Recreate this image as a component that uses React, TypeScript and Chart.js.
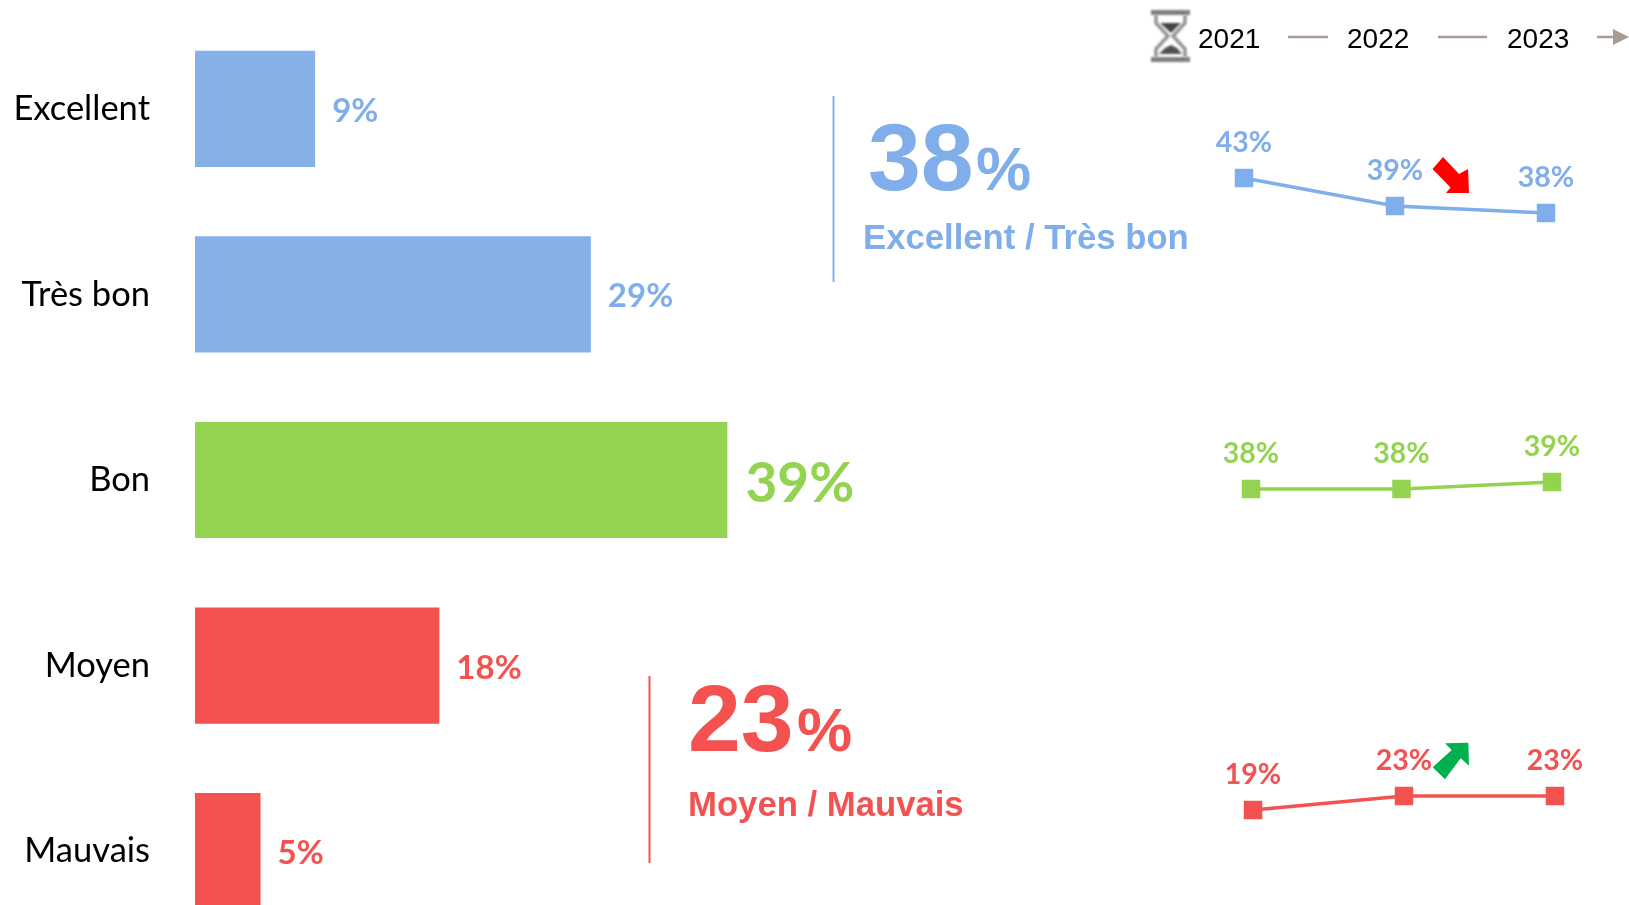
import React, { useEffect, useRef } from "react";
import { Chart, registerables } from "chart.js";

Chart.register(...registerables);

const categories = ["Excellent", "Très bon", "Bon", "Moyen", "Mauvais"];
const barValues = [8.8, 29, 39, 17.9, 4.8];
const barLabels = ["9%", "29%", "39%", "18%", "5%"];

const years = ["2021", "2022", "2023"];
const goodTrend = [43, 39, 38];
const neutralTrend = [38, 38, 39];
const badTrend = [19, 23, 23];

const BLUE = "#85B0E8";
const BLUE_TEXT = "#7FAEEA";
const GREEN = "#93D350";
const RED = "#F45151";
const GREY = "#A89B93";

const SANS = '"Liberation Sans", Arial, sans-serif';
const LABEL = 'Lato, "Noto Sans", sans-serif';

function poly(ctx: CanvasRenderingContext2D, pts: number[][], fill: string) {
  ctx.beginPath();
  pts.forEach((p, i) => (i ? ctx.lineTo(p[0], p[1]) : ctx.moveTo(p[0], p[1])));
  ctx.closePath();
  ctx.fillStyle = fill;
  ctx.fill();
}

function text(ctx: CanvasRenderingContext2D, s: string, x: number, y: number, font: string, color: string, align: CanvasTextAlign = "left") {
  ctx.font = font;
  ctx.fillStyle = color;
  ctx.textAlign = align;
  ctx.textBaseline = "alphabetic";
  ctx.fillText(s, x, y);
}

function drawHourglass(ctx: CanvasRenderingContext2D) {
  ctx.save();
  ctx.filter = "blur(1px)";
  ctx.fillStyle = "#7e7e7e";
  ctx.fillRect(1151, 10, 39, 5);
  ctx.fillRect(1151, 57, 39, 5);
  ctx.strokeStyle = "#949494";
  ctx.lineWidth = 3.5;
  ctx.beginPath();
  ctx.moveTo(1156, 15);
  ctx.lineTo(1156, 23);
  ctx.lineTo(1168, 36);
  ctx.lineTo(1156, 49);
  ctx.lineTo(1156, 57);
  ctx.moveTo(1185, 15);
  ctx.lineTo(1185, 23);
  ctx.lineTo(1173, 36);
  ctx.lineTo(1185, 49);
  ctx.lineTo(1185, 57);
  ctx.stroke();
  poly(ctx, [[1160, 23], [1181, 23], [1171, 33]], "#444444");
  poly(ctx, [[1159, 54], [1182, 54], [1177, 48], [1171, 45], [1165, 48]], "#505050");
  ctx.restore();
}

const decor = {
  id: "decor",
  afterDraw(chart: any) {
    const ctx: CanvasRenderingContext2D = chart.ctx;
    ctx.save();
    // header
    drawHourglass(ctx);
    const hf = `28px ${SANS}`;
    text(ctx, years[0], 1198, 48, hf, "#000");
    text(ctx, years[1], 1347, 48, hf, "#000");
    text(ctx, years[2], 1507, 48, hf, "#000");
    ctx.strokeStyle = GREY;
    ctx.lineWidth = 2.5;
    ctx.beginPath();
    ctx.moveTo(1288, 37);
    ctx.lineTo(1328, 37);
    ctx.moveTo(1438, 37);
    ctx.lineTo(1487, 37);
    ctx.moveTo(1597, 37);
    ctx.lineTo(1615, 37);
    ctx.stroke();
    poly(ctx, [[1613, 29], [1629, 37], [1613, 45]], GREY);
    // KPI blocks
    ctx.lineWidth = 2;
    ctx.strokeStyle = BLUE;
    ctx.beginPath();
    ctx.moveTo(833.5, 96);
    ctx.lineTo(833.5, 282);
    ctx.stroke();
    text(ctx, "38", 868, 190, `bold 95px ${SANS}`, BLUE_TEXT);
    text(ctx, "%", 976, 190, `bold 62px ${SANS}`, BLUE_TEXT);
    text(ctx, "Excellent / Très bon", 863, 249, `bold 34.7px ${SANS}`, BLUE_TEXT);
    ctx.strokeStyle = RED;
    ctx.beginPath();
    ctx.moveTo(649.5, 676);
    ctx.lineTo(649.5, 863);
    ctx.stroke();
    text(ctx, "23", 688, 751, `bold 95px ${SANS}`, RED);
    text(ctx, "%", 797, 751, `bold 62px ${SANS}`, RED);
    text(ctx, "Moyen / Mauvais", 688, 816, `bold 34.7px ${SANS}`, RED);
    // trend arrows
    poly(ctx, [[1443, 157], [1459, 174], [1468, 169], [1469, 193], [1446, 193], [1450.5, 187.5], [1432.5, 169]], "#FF0000");
    poly(ctx, [[1445, 743.3], [1468.3, 742.7], [1469, 765.7], [1460.7, 758.3], [1445, 779.3], [1432.7, 767.3], [1451.7, 750]], "#00B050");
    ctx.restore();
  },
};

const barText = {
  id: "barText",
  afterDatasetsDraw(chart: any) {
    const ctx: CanvasRenderingContext2D = chart.ctx;
    const meta = chart.getDatasetMeta(0);
    ctx.save();
    meta.data.forEach((el: any, i: number) => {
      const big = i === 2;
      const color = (chart.data.datasets[0].backgroundColor as string[])[i];
      text(ctx, barLabels[i], el.x + (big ? 18 : 17), el.y + (big ? 22 : 13), `bold ${big ? 55 : 33}px ${LABEL}`, color === BLUE ? BLUE_TEXT : color);
    });
    ctx.restore();
  },
};

const pointText = {
  id: "pointText",
  afterDatasetsDraw(chart: any) {
    const ctx: CanvasRenderingContext2D = chart.ctx;
    const ds = chart.data.datasets[0];
    ctx.save();
    chart.getDatasetMeta(0).data.forEach((el: any, i: number) => {
      text(ctx, `${ds.data[i]}%`, el.x, el.y - 26, `bold 28.5px ${LABEL}`, ds.borderColor, "center");
    });
    ctx.restore();
  },
};

function BarPanel() {
  const ref = useRef<HTMLCanvasElement>(null);
  useEffect(() => {
    const chart = new Chart(ref.current!, {
      type: "bar",
      data: {
        labels: categories,
        datasets: [
          {
            data: barValues,
            backgroundColor: [BLUE, BLUE, GREEN, RED, RED],
            categoryPercentage: 1,
            barPercentage: 0.626,
          },
        ],
      },
      options: {
        indexAxis: "y",
        responsive: false,
        animation: false,
        layout: { autoPadding: false, padding: { top: 16, bottom: 1, left: 0, right: 0 } },
        plugins: { legend: { display: false }, tooltip: { enabled: false } },
        scales: {
          x: { display: false, min: 0, max: 105.05 },
          y: {
            grid: { display: false, drawTicks: false },
            border: { display: false },
            afterFit: (s: any) => {
              s.width = 195;
              s.paddingTop = 0;
              s.paddingBottom = 0;
            },
            ticks: { color: "#000", padding: 45, font: { family: "Lato", size: 34.5 } },
          },
        },
      },
      plugins: [barText, decor],
    } as any);
    return () => chart.destroy();
  }, []);
  return <canvas ref={ref} width={1629} height={945} style={{ position: "absolute", left: 0, top: 0 }} />;
}

function Trend(props: { values: number[]; color: string; top: number; height: number; min: number; max: number; padL: number; padR: number }) {
  const ref = useRef<HTMLCanvasElement>(null);
  const { values, color, top, height, min, max, padL, padR } = props;
  useEffect(() => {
    const chart = new Chart(ref.current!, {
      type: "line",
      data: {
        labels: years,
        datasets: [
          {
            data: values,
            borderColor: color,
            backgroundColor: color,
            borderWidth: 3.5,
            tension: 0,
            pointStyle: "rect",
            pointRadius: 10.6,
            clip: false,
          },
        ],
      },
      options: {
        responsive: false,
        animation: false,
        layout: { autoPadding: false, padding: { left: padL, right: padR, top: 0, bottom: 0 } },
        plugins: { legend: { display: false }, tooltip: { enabled: false } },
        scales: {
          x: { display: false, offset: false },
          y: { display: false, min, max },
        },
      },
      plugins: [pointText],
    } as any);
    return () => chart.destroy();
  }, []);
  return <canvas ref={ref} width={439} height={height} style={{ position: "absolute", left: 1190, top }} />;
}

export default function App() {
  return (
    <div style={{ position: "fixed", left: 0, top: 0, width: 1629, height: 905, overflow: "hidden", background: "#fff" }}>
      <BarPanel />
      <Trend values={goodTrend} color={BLUE_TEXT} top={120} height={110} min={35.57} max={51.29} padL={54} padR={83} />
      <Trend values={neutralTrend} color={GREEN} top={430} height={80} min={35} max={46.43} padL={61} padR={77} />
      <Trend values={badTrend} color={RED} top={740} height={90} min={13.29} max={39} padL={63} padR={74} />
    </div>
  );
}
